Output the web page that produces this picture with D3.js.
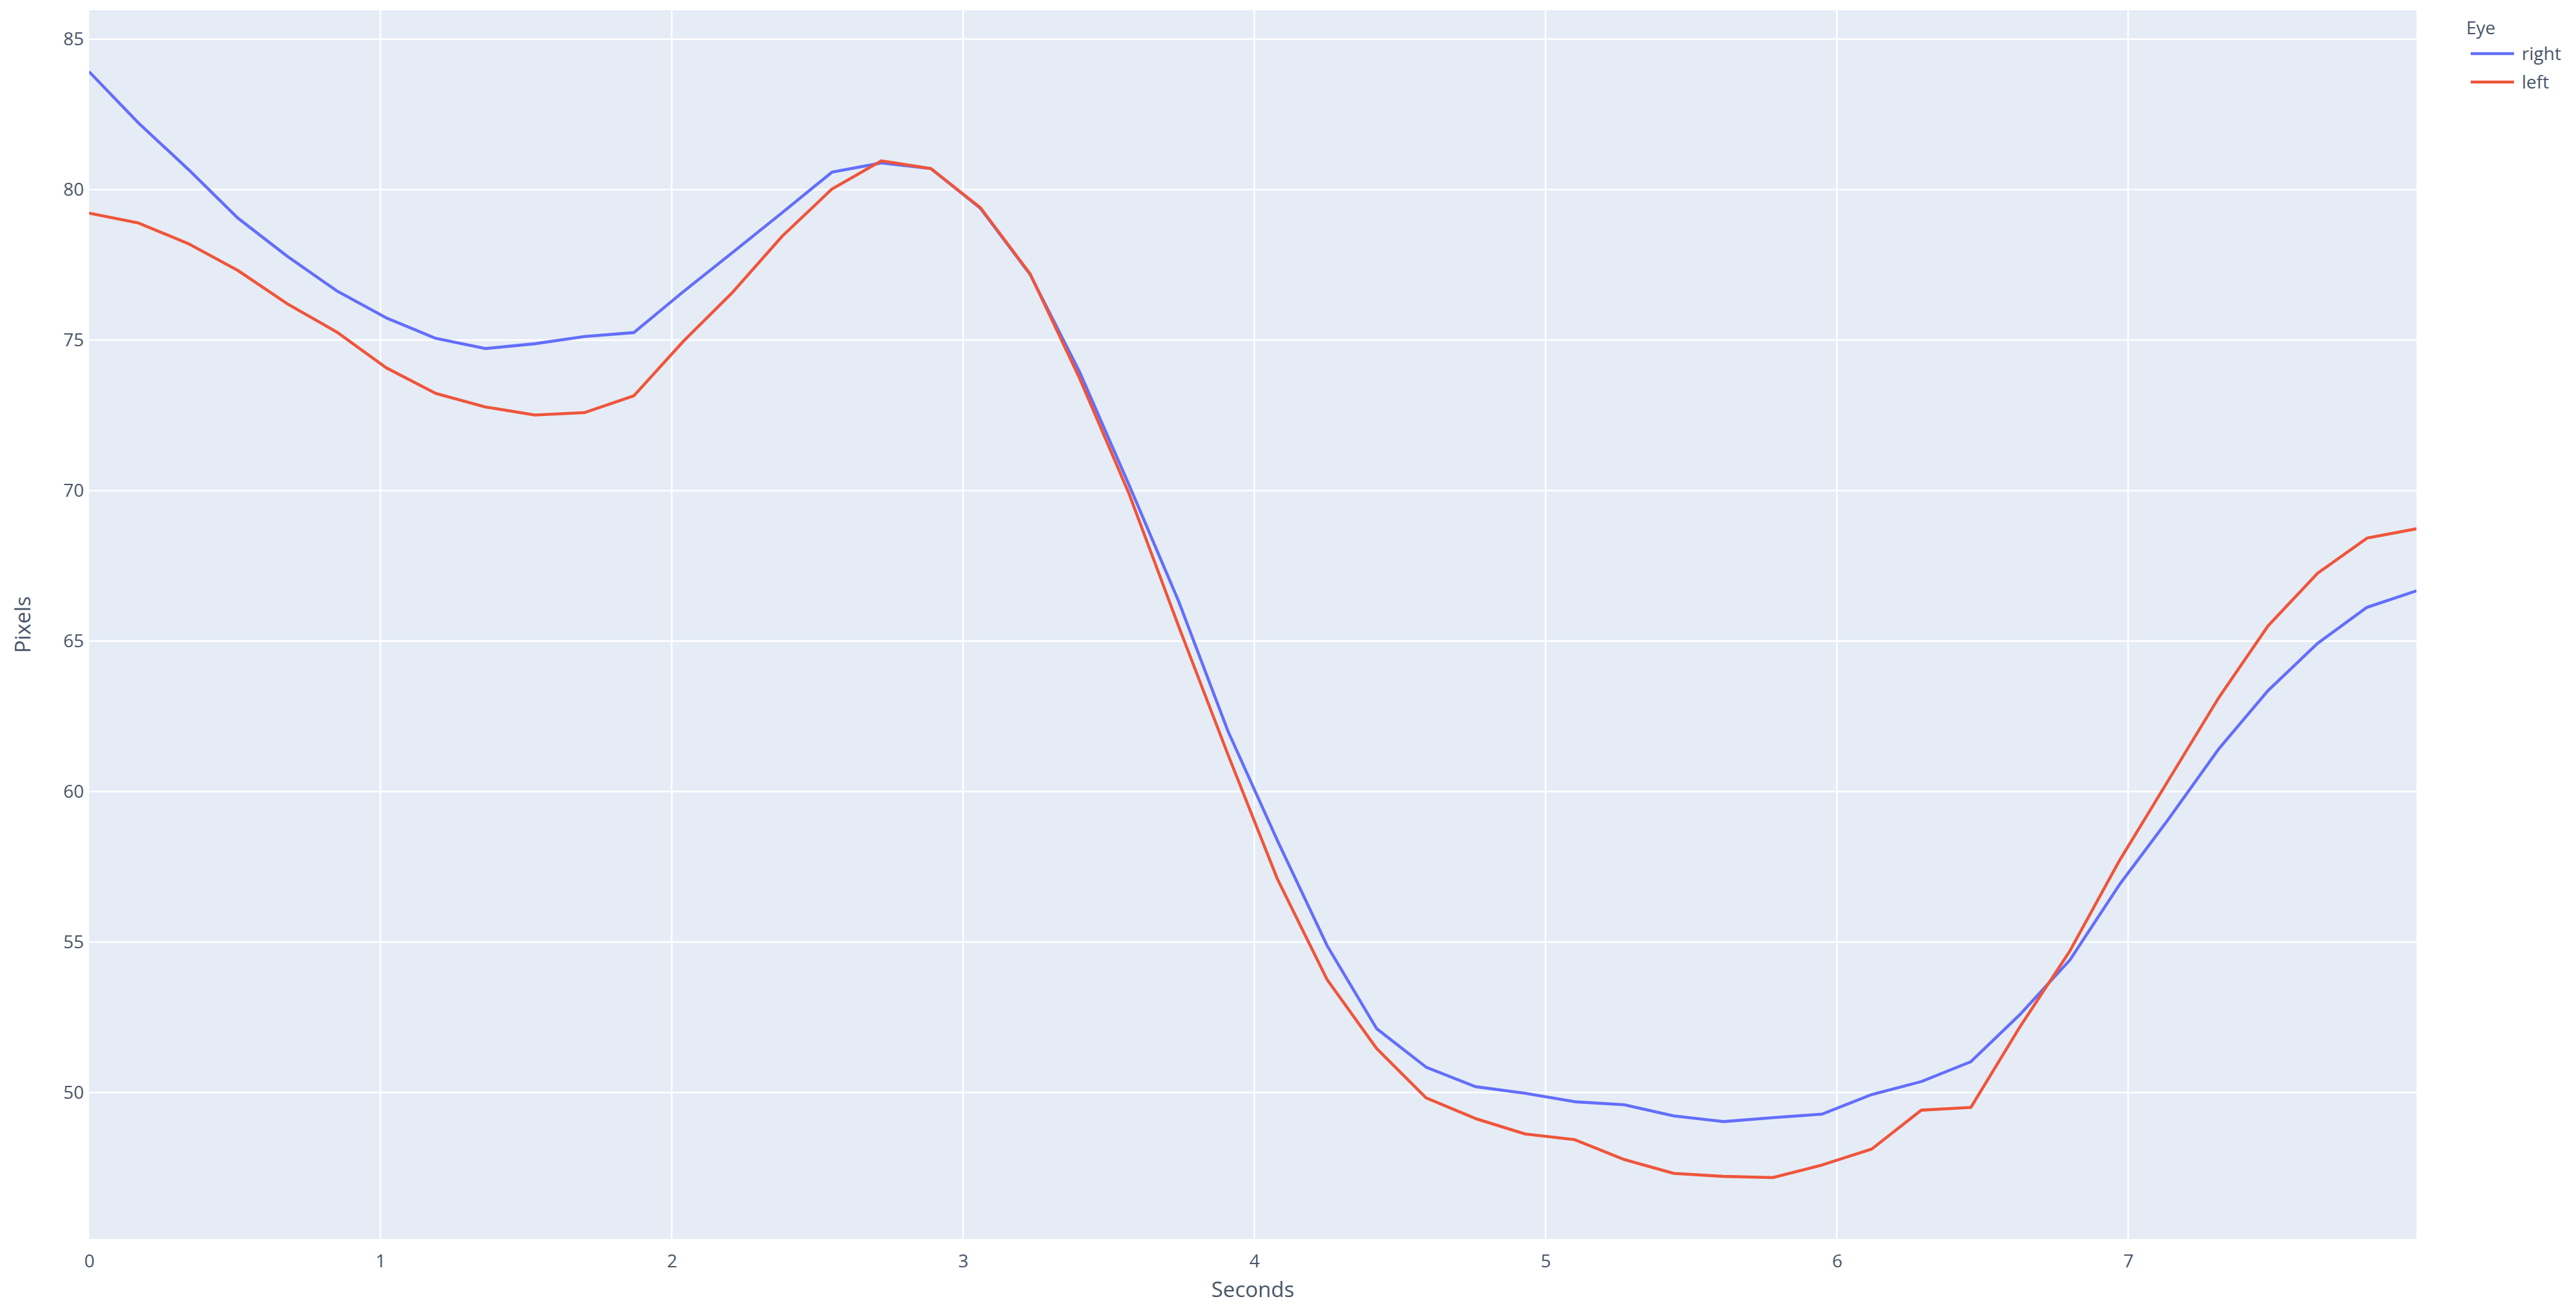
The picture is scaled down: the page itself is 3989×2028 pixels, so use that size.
<!DOCTYPE html>
<html>
<head>
<meta charset="utf-8">
<script src="https://cdn.jsdelivr.net/npm/d3@7"></script>
<style>
  html, body { margin: 0; padding: 0; background: #fff; }
  svg { display: block; }
</style>
</head>
<body>
<script>
// ---- data ----
const seriesNames = ["right", "left"];
const legendTitle = "Eye";
const xTitle = "Seconds";
const yTitle = "Pixels";
const seconds = [0, 0.17, 0.34, 0.51, 0.68, 0.85, 1.02, 1.19, 1.36, 1.53, 1.70, 1.87,
  2.04, 2.21, 2.38, 2.55, 2.72, 2.89, 3.06, 3.23, 3.40, 3.57, 3.74, 3.91,
  4.08, 4.25, 4.42, 4.59, 4.76, 4.93, 5.10, 5.27, 5.44, 5.61, 5.78, 5.95,
  6.12, 6.29, 6.46, 6.63, 6.80, 6.97, 7.14, 7.31, 7.48, 7.65, 7.82, 7.99];
const rightEye = [83.92, 82.21, 80.68, 79.06, 77.79, 76.64, 75.74, 75.06, 74.72, 74.88, 75.12, 75.25,
  76.61, 77.92, 79.24, 80.58, 80.89, 80.70, 79.38, 77.19, 73.95, 70.19, 66.33, 62.0,
  58.36, 54.88, 52.12, 50.84, 50.19, 49.97, 49.69, 49.59, 49.22, 49.03, 49.16, 49.28,
  49.93, 50.36, 51.02, 52.6, 54.4, 56.9, 59.1, 61.4, 63.35, 64.92, 66.12, 66.67];
const leftEye = [79.22, 78.89, 78.21, 77.32, 76.21, 75.27, 74.08, 73.23, 72.78, 72.51, 72.59, 73.15,
  74.96, 76.60, 78.46, 80.02, 80.96, 80.70, 79.40, 77.21, 73.74, 69.90, 65.50, 61.22,
  57.08, 53.75, 51.46, 49.82, 49.13, 48.62, 48.43, 47.77, 47.31, 47.21, 47.17, 47.59,
  48.12, 49.41, 49.50, 52.2, 54.7, 57.7, 60.4, 63.1, 65.5, 67.25, 68.42, 68.73];
const xTicks = [0, 1, 2, 3, 4, 5, 6, 7];
const yTicks = [50, 55, 60, 65, 70, 75, 80, 85];
const colors = ["#636EFA", "#EF553B"];

// ---- layout ----
const W = 3989, H = 2028;
const plot = { left: 138, right: 3742, top: 16, bottom: 1918 };
const font = "'Open Sans', 'Noto Sans', sans-serif";
const textColor = "#4a5568";

const svg = d3.select("body").append("svg").attr("width", W).attr("height", H);

const x = d3.scaleLinear().domain(d3.extent(seconds)).range([plot.left, plot.right]);
const allVals = rightEye.concat(leftEye);
const [vmin, vmax] = d3.extent(allVals);
const pad = (vmax - vmin) * 0.0555;
const y = d3.scaleLinear().domain([vmin - pad, vmax + pad]).range([plot.bottom, plot.top]);

// background
svg.append("rect")
  .attr("x", plot.left).attr("y", plot.top)
  .attr("width", plot.right - plot.left).attr("height", plot.bottom - plot.top)
  .attr("fill", "#E5ECF6");

// grid
const grid = svg.append("g");
grid.selectAll("line.gx").data(xTicks.filter(d => d > 0)).enter().append("line")
  .attr("x1", d => x(d)).attr("x2", d => x(d))
  .attr("y1", plot.top).attr("y2", plot.bottom)
  .attr("stroke", "#fff").attr("stroke-width", 2.5);
grid.selectAll("line.gy").data(yTicks).enter().append("line")
  .attr("x1", plot.left).attr("x2", plot.right)
  .attr("y1", d => y(d)).attr("y2", d => y(d))
  .attr("stroke", "#fff").attr("stroke-width", 2.5);

// axes (labels only)
const xAxis = d3.axisBottom(x).tickValues(xTicks).tickSize(0).tickPadding(24).tickFormat(d3.format("d"));
const gx = svg.append("g").attr("transform", `translate(0,${plot.bottom})`).call(xAxis);
gx.select(".domain").remove();
gx.selectAll("text").attr("font-family", font).attr("font-size", 28).attr("fill", textColor);

const yAxis = d3.axisLeft(y).tickValues(yTicks).tickSize(0).tickPadding(8).tickFormat(d3.format("d"));
const gy = svg.append("g").attr("transform", `translate(${plot.left},0)`).call(yAxis);
gy.select(".domain").remove();
gy.selectAll("text").attr("font-family", font).attr("font-size", 28).attr("fill", textColor);

// axis titles
svg.append("text").attr("x", (plot.left + plot.right) / 2).attr("y", 2008)
  .attr("text-anchor", "middle").attr("font-family", font).attr("font-size", 33)
  .attr("fill", textColor).text(xTitle);
svg.append("text").attr("transform", `translate(47,${(plot.top + plot.bottom) / 2}) rotate(-90)`)
  .attr("text-anchor", "middle").attr("font-family", font).attr("font-size", 33)
  .attr("fill", textColor).text(yTitle);

// lines
const clip = svg.append("clipPath").attr("id", "clip").append("rect")
  .attr("x", plot.left).attr("y", plot.top)
  .attr("width", plot.right - plot.left).attr("height", plot.bottom - plot.top);
const series = [rightEye, leftEye];
const line = d3.line().x((d, i) => x(seconds[i])).y(d => y(d));
svg.append("g").attr("clip-path", "url(#clip)")
  .selectAll("path").data(series).enter().append("path")
  .attr("d", d => line(d))
  .attr("fill", "none")
  .attr("stroke", (d, i) => colors[i])
  .attr("stroke-width", 4.6)
  .attr("stroke-linejoin", "round");

// legend
const lg = svg.append("g");
lg.append("text").attr("x", 3819).attr("y", 53)
  .attr("font-family", font).attr("font-size", 28).attr("fill", textColor).text(legendTitle);
const items = lg.selectAll("g.item").data(seriesNames).enter().append("g")
  .attr("transform", (d, i) => `translate(0,${83 + i * 44})`);
items.append("line").attr("x1", 3826).attr("x2", 3893).attr("y1", 0).attr("y2", 0)
  .attr("stroke", (d, i) => colors[i]).attr("stroke-width", 4.6);
items.append("text").attr("x", 3905).attr("y", 10)
  .attr("font-family", font).attr("font-size", 28).attr("fill", textColor).text(d => d);
</script>
</body>
</html>
